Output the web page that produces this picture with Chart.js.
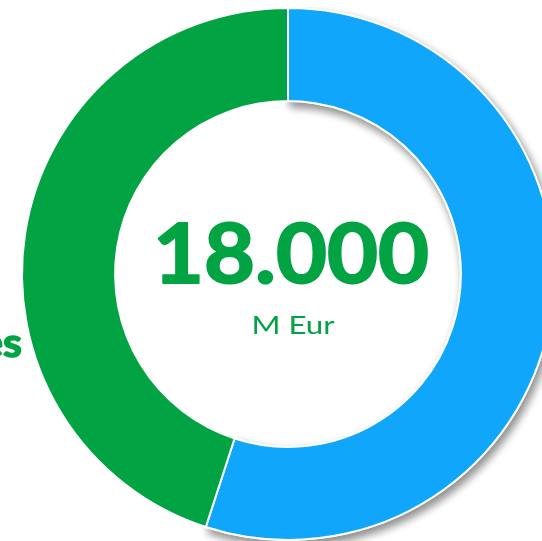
<!DOCTYPE html>
<html>
<head>
<meta charset="utf-8">
<script src="https://cdn.jsdelivr.net/npm/chart.js@4/dist/chart.umd.min.js"></script>
<style>
  html, body { margin: 0; padding: 0; background: #ffffff; overflow: hidden; width: 542px; height: 541px; }
  #wrap { position: absolute; left: 0; top: 7px; width: 555px; height: 534px; }
</style>
</head>
<body>
<div id="wrap"><canvas id="c"></canvas></div>
<script>
// Revenue split (M Eur)
const categories = ['Ingresos', 'Costes'];
const values = [9900, 8100];
const colors = ['#0FA6FB', '#02A343'];
const totalLabel = '18.000';
const unitLabel = 'M Eur';

const GREEN = '#02A343';

// Soft drop shadow under the first (blue) segment
const shadowPlugin = {
  id: 'segShadow',
  beforeDatasetsDraw(chart) {
    const arc = chart.getDatasetMeta(0).data[0];
    const ctx = chart.ctx;
    ctx.save();
    ctx.shadowColor = 'rgba(0,0,0,0.45)';
    ctx.shadowBlur = 8;
    ctx.shadowOffsetX = 3;
    ctx.shadowOffsetY = 5;
    arc.draw(ctx);
    ctx.restore();
  }
};

// text drawn with a horizontal stretch around its anchor; optional outline to thicken
function wideText(ctx, text, x, y, sx, thicken) {
  ctx.save();
  ctx.translate(x, y);
  ctx.scale(sx, 1);
  ctx.fillText(text, 0, 0);
  if (thicken) {
    ctx.lineJoin = 'round';
    ctx.lineWidth = thicken;
    ctx.strokeStyle = ctx.fillStyle;
    ctx.strokeText(text, 0, 0);
  }
  ctx.restore();
}

// Total in the hole plus the side label of the green segment
const centerText = {
  id: 'centerText',
  afterDraw(chart) {
    const ctx = chart.ctx;
    const arc = chart.getDatasetMeta(0).data[0];
    const cx = arc.x, cy = arc.y;
    ctx.save();
    ctx.fillStyle = GREEN;
    ctx.textAlign = 'center';
    ctx.textBaseline = 'alphabetic';
    ctx.font = 'bold 83px Lato';
    wideText(ctx, totalLabel, cx + 3, cy + 9, 1.06, 2);
    ctx.font = '25px Lato';
    wideText(ctx, unitLabel, cx + 5, cy + 60, 1.25);
    // outer label for the green segment (sits left of the ring)
    ctx.textAlign = 'right';
    ctx.font = 'bold 41px Lato';
    wideText(ctx, categories[1], cx - 266, cy + 83, 1.05, 1.5);
    ctx.restore();
  }
};

new Chart(document.getElementById('c'), {
  type: 'doughnut',
  data: {
    labels: categories,
    datasets: [{
      data: values,
      backgroundColor: colors,
      borderColor: '#ffffff',
      borderWidth: 2,
      hoverOffset: 0
    }]
  },
  options: {
    responsive: true,
    maintainAspectRatio: false,
    animation: false,
    cutout: '65%',
    layout: { padding: { left: 21, right: 0, top: 0, bottom: 0 } },
    plugins: {
      legend: { display: false },
      tooltip: { enabled: false }
    }
  },
  plugins: [shadowPlugin, centerText]
});
</script>
</body>
</html>
